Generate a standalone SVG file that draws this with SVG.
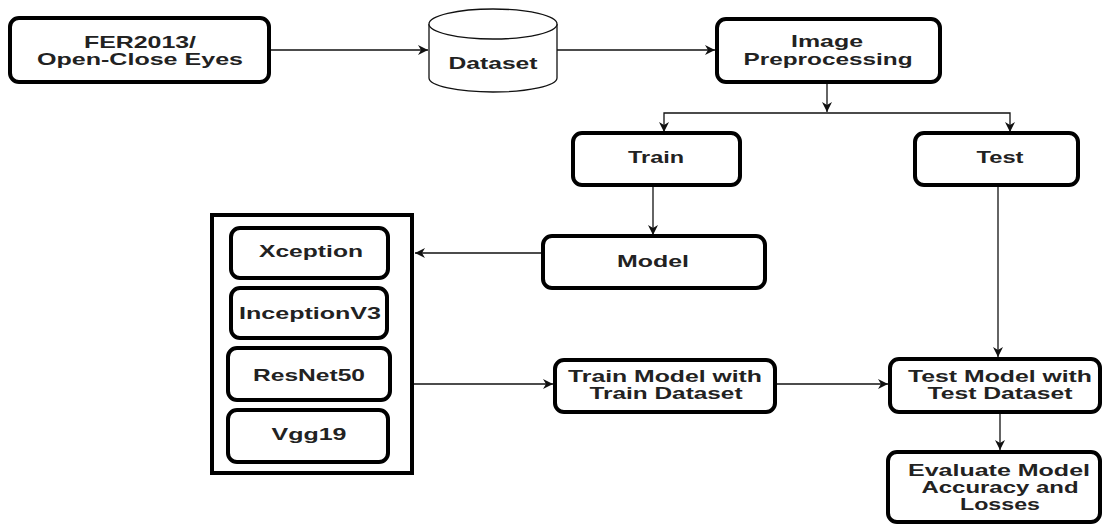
<svg xmlns="http://www.w3.org/2000/svg" width="1103" height="525" viewBox="0 0 1103 525">
  <style>
    .box { fill: #ffffff; stroke: #000000; stroke-width: 4; }
    .cyl { fill: #ffffff; stroke: #111111; stroke-width: 1.3; }
    .frame { fill: #ffffff; stroke: #000000; stroke-width: 4; }
    .lbl { font-family: "Liberation Sans", Arial, sans-serif; font-weight: bold; font-size: 16.5px; fill: #222222; text-anchor: middle; }
    .edge { fill: none; stroke: #111111; stroke-width: 1.3; }
  </style>
  <defs>
    <marker id="arrow" markerUnits="userSpaceOnUse" markerWidth="11" markerHeight="10" refX="10" refY="5" orient="auto">
      <path d="M0,0 L10,5 L0,10 L3,5 z" fill="#111111"/>
    </marker>
  </defs>

  <!-- connectors -->
  <g id="connectors">
    <path class="edge" d="M269,50 H428" marker-end="url(#arrow)"/>
    <path class="edge" d="M557,50 H715" marker-end="url(#arrow)"/>
    <path class="edge" d="M827,82 V112" marker-end="url(#arrow)"/>
    <path class="edge" d="M827,113 H664 V132" marker-end="url(#arrow)"/>
    <path class="edge" d="M827,113 H1010 V132" marker-end="url(#arrow)"/>
    <path class="edge" d="M653,185 V235" marker-end="url(#arrow)"/>
    <path class="edge" d="M543,253 H415" marker-end="url(#arrow)"/>
    <path class="edge" d="M412,384 H553" marker-end="url(#arrow)"/>
    <path class="edge" d="M775,384 H888" marker-end="url(#arrow)"/>
    <path class="edge" d="M998,185 V357" marker-end="url(#arrow)"/>
    <path class="edge" d="M1000,412 V450" marker-end="url(#arrow)"/>
  </g>

  <g id="fer2013">
    <rect class="box" x="10" y="18" width="259" height="64" rx="9"/>
    <text class="lbl" x="140" y="48" textLength="112" lengthAdjust="spacingAndGlyphs">FER2013/</text>
    <text class="lbl" x="140" y="65" textLength="206" lengthAdjust="spacingAndGlyphs">Open-Close Eyes</text>
  </g>

  <g id="dataset">
    <path class="cyl" d="M429,24 V78 A64,14 0 0 0 557,78 V24 A64,15 0 0 0 429,24 Z"/>
    <path class="cyl" d="M429,24 A64,15 0 0 0 557,24"/>
    <text class="lbl" x="493" y="69" textLength="89" lengthAdjust="spacingAndGlyphs">Dataset</text>
  </g>

  <g id="image-preprocessing">
    <rect class="box" x="717" y="19" width="223" height="63" rx="9"/>
    <text class="lbl" x="827" y="47" textLength="72" lengthAdjust="spacingAndGlyphs">Image</text>
    <text class="lbl" x="828" y="65" textLength="169" lengthAdjust="spacingAndGlyphs">Preprocessing</text>
  </g>

  <g id="train">
    <rect class="box" x="573" y="133" width="167" height="52" rx="9"/>
    <text class="lbl" x="656" y="163" textLength="56" lengthAdjust="spacingAndGlyphs">Train</text>
  </g>

  <g id="test">
    <rect class="box" x="915" y="133" width="163" height="52" rx="9"/>
    <text class="lbl" x="1000" y="163" textLength="47" lengthAdjust="spacingAndGlyphs">Test</text>
  </g>

  <g id="model">
    <rect class="box" x="543" y="236" width="222" height="52" rx="9"/>
    <text class="lbl" x="653" y="267" textLength="72" lengthAdjust="spacingAndGlyphs">Model</text>
  </g>

  <g id="model-list">
    <rect class="frame" x="212" y="215" width="200" height="258"/>
    <g id="xception">
      <rect class="box" x="231" y="228" width="157" height="50" rx="9"/>
      <text class="lbl" x="311" y="257" textLength="104" lengthAdjust="spacingAndGlyphs">Xception</text>
    </g>
    <g id="inceptionv3">
      <rect class="box" x="231" y="288" width="156" height="50" rx="9"/>
      <text class="lbl" x="310" y="319" textLength="142" lengthAdjust="spacingAndGlyphs">InceptionV3</text>
    </g>
    <g id="resnet50">
      <rect class="box" x="228" y="348" width="162" height="52" rx="9"/>
      <text class="lbl" x="309" y="381" textLength="112" lengthAdjust="spacingAndGlyphs">ResNet50</text>
    </g>
    <g id="vgg19">
      <rect class="box" x="228" y="410" width="160" height="52" rx="9"/>
      <text class="lbl" x="309" y="440" textLength="75" lengthAdjust="spacingAndGlyphs">Vgg19</text>
    </g>
  </g>

  <g id="train-model">
    <rect class="box" x="555" y="360" width="220" height="52" rx="9"/>
    <text class="lbl" x="665" y="382" textLength="194" lengthAdjust="spacingAndGlyphs">Train Model with</text>
    <text class="lbl" x="666" y="399" textLength="153" lengthAdjust="spacingAndGlyphs">Train Dataset</text>
  </g>

  <g id="test-model">
    <rect class="box" x="890" y="359" width="210" height="53" rx="9"/>
    <text class="lbl" x="1000" y="382" textLength="184" lengthAdjust="spacingAndGlyphs">Test Model with</text>
    <text class="lbl" x="1000" y="399" textLength="145" lengthAdjust="spacingAndGlyphs">Test Dataset</text>
  </g>

  <g id="evaluate">
    <rect class="box" x="888" y="452" width="212" height="70" rx="9"/>
    <text class="lbl" x="999" y="476" textLength="182" lengthAdjust="spacingAndGlyphs">Evaluate Model</text>
    <text class="lbl" x="1000" y="493" textLength="157" lengthAdjust="spacingAndGlyphs">Accuracy and</text>
    <text class="lbl" x="1000" y="510" textLength="80" lengthAdjust="spacingAndGlyphs">Losses</text>
  </g>
</svg>
